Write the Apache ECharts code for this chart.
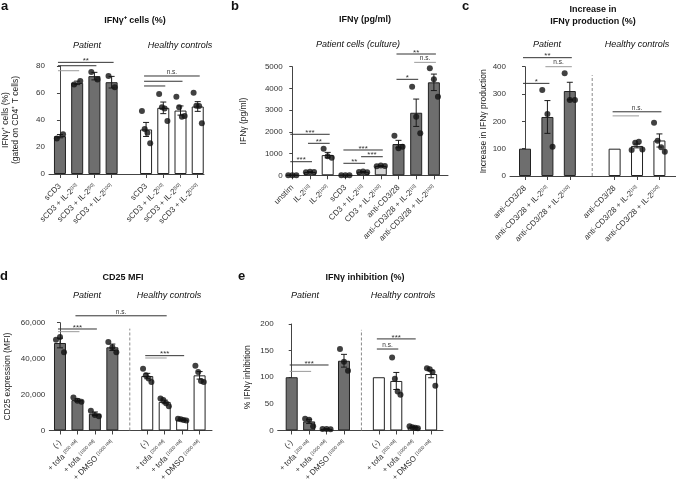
<!DOCTYPE html>
<html><head><meta charset="utf-8">
<script src="https://cdn.jsdelivr.net/npm/echarts@6/dist/echarts.min.js"></script>
<style>html,body{margin:0;padding:0;background:#fff}#c{width:676px;height:484px}</style>
</head><body><div id="c"></div>
<script>
// ---------- DATA ----------
// Panel a: IFNγ+ cells (%)
const aCats = ['sCD3','sCD3 + IL-2^[10]','sCD3 + IL-2^[50]','sCD3 + IL-2^[100]','','sCD3','sCD3 + IL-2^[10]','sCD3 + IL-2^[50]','sCD3 + IL-2^[100]'];
const aGroups = ['P','P','P','P','','H','H','H','H'];
const aMean = [28, 67.5, 72.5, 68, null, 33, 49, 47, 50];
const aSem  = [1.2, 1.3, 2.8, 4.3, null, 5.2, 4.3, 3.4, 3.6];
const aDots = [[26.3,29.5],[66.3,68.9],[75.6,70],[72.6,64.2],[],[46.7,33.3,30.6,22.7],[59.3,49.4,48.6,39.3],[57.3,49.4,42.5,42.9],[60.2,50.6,50.4,37.6]];
const aComps = [[0,3,82.7,'**',0],[0,2,80.2,'',0],[0,1,76.5,'',1],[5,8,72.6,'n.s.',0],[5,7,68.7,'',0],[5,6,65.2,'',0]];
const aTicks = [0,20,40,60,80];

// Panel b: IFNγ (pg/ml), patient cells
const bCats = ['unstim','IL-2^[10]','IL-2^[100]','sCD3','CD3 + IL-2^[10]','CD3 + IL-2^[100]','anti-CD3/28','anti-CD3/28 + IL-2^[10]','anti-CD3/28 + IL-2^[100]'];
const bGroups = ['W','W','W','L','L','L','P','P','P'];
const bMean = [5, 150, 930, 5, 160, 430, 1440, 2880, 4280];
const bSem  = [0, 10, 125, 0, 15, 25, 170, 630, 380];
const bDots = [[5,5,5],[140,160,150],[1225,880,810],[5,5,5],[150,175,145],[420,450,430],[1820,1245,1320],[4080,2700,1935],[4926,4420,3620]];
const bComps = [[0,2,1888,'***',0],[1,2,1473,'**',0],[0,1,626,'***',0],[3,5,1165,'***',0],[4,5,856,'***',0],[3,4,553,'**',0],[6,8,5584,'**',0],[7,8,5200,'n.s.',1],[6,7,4419,'*',0]];
const bTicks = [0,1000,2000,3000,4000,5000];

// Panel c: Increase in IFNγ production (%)
const cCats = ['anti-CD3/28','anti-CD3/28 + IL-2^[10]','anti-CD3/28 + IL-2^[100]','','anti-CD3/28','anti-CD3/28 + IL-2^[10]','anti-CD3/28 + IL-2^[100]'];
const cGroups = ['P','P','P','','H','H','H'];
const cMean = [100, 216, 311, null, 100, 110, 130];
const cSem  = [0, 60, 32, null, 0, 7, 24];
const cDots = [[],[315,227,107],[376,278,278],[],[],[95,122,125,97],[195,129,105,89]];
const cComps = [[0,2,433,'**',0],[1,2,400,'n.s.',1],[0,1,339,'*',0],[4,6,235,'n.s.',0],[4,5,220,'',1]];
const cSep = [3, 369];
const cTicks = [0,100,200,300,400];

// Panel d: CD25 MFI
const dCats = ['(-)','+ tofa ^[200 nM]','+ tofa ^[1000 nM]','+ DMSO ^[1000 nM]','','(-)','+ tofa ^[200 nM]','+ tofa ^[1000 nM]','+ DMSO ^[1000 nM]'];
const dGroups = ['P','P','P','P','','H','H','H','H'];
const dMean = [48700, 16900, 9300, 46300, null, 30300, 15900, 6000, 30700];
const dSem  = [2700, 700, 1000, 1800, null, 1500, 1000, 300, 2100];
const dDots = [[50500,52000,43500],[18300,16500,16000],[11000,8600,7900],[49200,46300,43500],[],[34300,30800,29000,27000],[17800,17000,15200,13500],[6500,6200,5900,5500],[36000,32500,27500,27000]];
const dComps = [[1,6,63850,'n.s.',0],[0,2,56500,'***',0],[0,1,55000,'',1],[5,7,41650,'***',0],[5,6,40350,'',1]];
const dSep = [4, 56700];
const dTicks = [0,20000,40000,60000];

// Panel e: IFNγ inhibition (%)
const eCats = dCats;
const eGroups = ['P','P','P','P','','H','H','H','H'];
const eMean = [100, 17, 3, 131, null, 100, 93, 6, 106];
const eSem  = [0, 4, 0.4, 12, null, 0, 16, 1, 7];
const eDots = [[],[22,20,8],[3,3,2.5],[153,129,112],[],[],[137,97,73,67],[8,6,5,4],[117,115,110,84]];
const eComps = [[0,2,123,'***',0],[0,1,111,'',1],[5,7,172,'***',0],[5,6,153,'n.s.',0]];
const eSep = [4, 189];
const eTicks = [0,50,100,150,200];

// ---------- STYLE / LAYOUT ----------
const FONT = 'Liberation Sans, Arial, Helvetica, sans-serif';
const fills = {P:'#6e6e6e', H:'#ffffff', W:'#ffffff', L:'#d4d4d4'};
const jitter = {1:[0],2:[-0.18,0.18],3:[-0.23,0,0.23],4:[-0.24,-0.08,0.08,0.24]};
const AX = '#444';

const panels = [
  {cats:aCats,groups:aGroups,mean:aMean,sem:aSem,dots:aDots,comps:aComps,ticks:aTicks,sep:null,
   L:48.3,R:204,T:66,H:108,m0:-0.636,m1:8.364,
   yname:'IFNγ⁺ cells (%)\n(gated on CD4⁺ T cells)', nameGap:28, fmt:v=>v},
  {cats:bCats,groups:bGroups,mean:bMean,sem:bSem,dots:bDots,comps:bComps,ticks:bTicks,sep:null,
   L:286.7,R:448,T:66.7,H:108.6,m0:-0.316,m1:8.797,
   yname:'IFNγ (pg/ml)', nameGap:38, fmt:v=>v},
  {cats:cCats,groups:cGroups,mean:cMean,sem:cSem,dots:cDots,comps:cComps,ticks:cTicks,sep:cSep,
   L:510,R:676,T:66.7,H:109.3,m0:-0.670,m1:6.74,
   yname:'Increase in IFNγ production', nameGap:15, fmt:v=>v},
  {cats:dCats,groups:dGroups,mean:dMean,sem:dSem,dots:dDots,comps:dComps,ticks:dTicks,sep:dSep,
   L:49.3,R:212,T:322.7,H:109,m0:-0.613,m1:8.711,
   yname:'CD25 expression (MFI)', nameGap:37, fmt:v=>v.toLocaleString('en-US')},
  {cats:eCats,groups:eGroups,mean:eMean,sem:eSem,dots:eDots,comps:eComps,ticks:eTicks,sep:eSep,
   L:277.7,R:443,T:324,H:108.7,m0:-0.803,m1:8.68,
   yname:'% IFNγ inhibition', nameGap:25, fmt:v=>v}
];

function labelFmt(cats){
  return function(v){
    const s = cats[Math.round(v)] || '';
    const m = s.match(/^(.*)\^(\[.*\])$/);
    return m ? m[1] + '{s|' + m[2] + '}' : s;
  };
}

const grid=[], xAxis=[], yAxis=[], series=[];
panels.forEach((p,k)=>{
  const idx = p.cats.map((c,i)=>c ? i : -1).filter(i=>i>=0);
  grid.push({left:p.L, top:p.T, width:p.R-p.L, height:p.H, containLabel:false});
  xAxis.push({gridIndex:k, type:'value', min:p.m0, max:p.m1,
    axisLine:{show:true,onZero:false,lineStyle:{color:AX,width:1}},
    axisTick:{show:true,length:4,customValues:idx,lineStyle:{color:AX}},
    axisLabel:{customValues:idx, rotate:45, fontSize:8, color:'#333', margin:11, fontFamily:FONT,
      formatter:labelFmt(p.cats), rich:{s:{fontSize:4.5, verticalAlign:'top', color:'#333', fontFamily:FONT}}},
    splitLine:{show:false}});
  const t = p.ticks;
  yAxis.push({gridIndex:k, type:'value', min:t[0], max:t[t.length-1], interval:t[1]-t[0],
    axisLine:{show:true,lineStyle:{color:AX,width:1}},
    axisTick:{show:true,length:3,lineStyle:{color:AX}},
    axisLabel:{fontSize:8,color:'#333',margin:4,fontFamily:FONT,formatter:p.fmt},
    splitLine:{show:false},
    name:p.yname, nameLocation:'middle', nameRotate:90, nameGap:p.nameGap,
    nameTextStyle:{fontSize:8.5,color:'#222',lineHeight:10,fontFamily:FONT}});

  const bars=[], errs=[], pts=[];
  p.cats.forEach((c,i)=>{
    if(p.mean[i]==null) return;
    bars.push({value:[i,p.mean[i]], itemStyle:{color:fills[p.groups[i]]}});
    if(p.sem[i]>0) errs.push([i,p.mean[i],p.sem[i]]);
    const d=p.dots[i]; const j=jitter[d.length]||[];
    d.forEach((v,n)=>pts.push([i+j[n],v]));
  });
  series.push({type:'bar', xAxisIndex:k, yAxisIndex:k, data:bars, barWidth:12, z:2,
    itemStyle:{borderColor:'#222',borderWidth:1}, animation:false, silent:true});
  series.push({type:'custom', xAxisIndex:k, yAxisIndex:k, data:errs, z:3, animation:false, silent:true,
    encode:{x:0,y:1},
    renderItem:function(params,api){
      const x=api.value(0), m=api.value(1), s=api.value(2);
      const a=api.coord([x,m+s]), b=api.coord([x,m-s]); const cw=3;
      const st={stroke:'#1a1a1a',lineWidth:1};
      return {type:'group',children:[
        {type:'line',shape:{x1:a[0],y1:a[1],x2:b[0],y2:b[1]},style:st},
        {type:'line',shape:{x1:a[0]-cw,y1:a[1],x2:a[0]+cw,y2:a[1]},style:st},
        {type:'line',shape:{x1:b[0]-cw,y1:b[1],x2:b[0]+cw,y2:b[1]},style:st}]};
    }});
  series.push({type:'scatter', xAxisIndex:k, yAxisIndex:k, data:pts, symbolSize:6, z:4,
    itemStyle:{color:'#111'}, animation:false, silent:true});
  const comps=p.comps;
  series.push({type:'custom', xAxisIndex:k, yAxisIndex:k, data:comps.map(c=>[c[0],c[1],c[2]]), z:5,
    clip:false, animation:false, silent:true, encode:{x:[0,1],y:2},
    renderItem:function(params,api){
      const c=comps[params.dataIndex];
      const a=api.coord([c[0],c[2]]), b=api.coord([c[1],c[2]]);
      const col=c[4]?'#9a9a9a':'#333';
      const ch=[{type:'line',shape:{x1:a[0]-2,y1:a[1],x2:b[0]+2,y2:a[1]},style:{stroke:col,lineWidth:1}}];
      if(c[3]){
        const star=c[3].indexOf('*')>=0;
        ch.push({type:'text',x:(a[0]+b[0])/2,y:star?a[1]-1.5:a[1]-0.5,
          style:{text:c[3],fontSize:star?8:6.5,fontFamily:FONT,fill:'#333',align:'center',
            verticalAlign:star?'middle':'bottom'}});
      }
      return {type:'group',children:ch};
    }});
  if(p.sep){
    const sep=p.sep;
    series.push({type:'custom', xAxisIndex:k, yAxisIndex:k, data:[[sep[0],sep[1]]], z:1,
      clip:false, animation:false, silent:true, encode:{x:0,y:1},
      renderItem:function(params,api){
        const a=api.coord([api.value(0),0]), b=api.coord([api.value(0),api.value(1)]);
        return {type:'line',shape:{x1:a[0],y1:a[1],x2:b[0],y2:b[1]},
          style:{stroke:'#8a8a8a',lineWidth:1,lineDash:[3,2]}};
      }});
  }
});

function txt(x,y,text,font,align){
  return {type:'text',x:x,y:y,z:110,silent:true,
    style:{text:text,font:font,fill:'#111',align:align||'center',verticalAlign:'middle'}};
}
const TB='bold 9px '+FONT, TI='italic 9px '+FONT, TL='bold 13px '+FONT;
const graphic=[
  {type:'rect',shape:{x:228,y:250,width:448,height:18},style:{fill:'#fff'},z:100,silent:true},
  txt(1,6,'a',TL,'left'), txt(135,21,'IFNγ⁺ cells (%)',TB),
  txt(87,45,'Patient',TI), txt(180,45,'Healthy controls',TI),
  txt(231,6,'b',TL,'left'), txt(365,20,'IFNγ (pg/ml)',TB),
  txt(358,44,'Patient cells (culture)',TI),
  txt(462,6,'c',TL,'left'), txt(593,10,'Increase in',TB), txt(593,21.7,'IFNγ production (%)',TB),
  txt(547,44,'Patient',TI), txt(637,44,'Healthy controls',TI),
  txt(0,276,'d',TL,'left'), txt(123,278,'CD25 MFI',TB),
  txt(87,295,'Patient',TI), txt(169,295,'Healthy controls',TI),
  txt(238,276,'e',TL,'left'), txt(365,278,'IFNγ inhibition (%)',TB),
  txt(305,295,'Patient',TI), txt(403,295,'Healthy controls',TI)
];

const chart=echarts.init(document.getElementById('c'),null,{renderer:'canvas'});
chart.setOption({animation:false, textStyle:{fontFamily:FONT}, grid, xAxis, yAxis, series, graphic});
</script></body></html>
